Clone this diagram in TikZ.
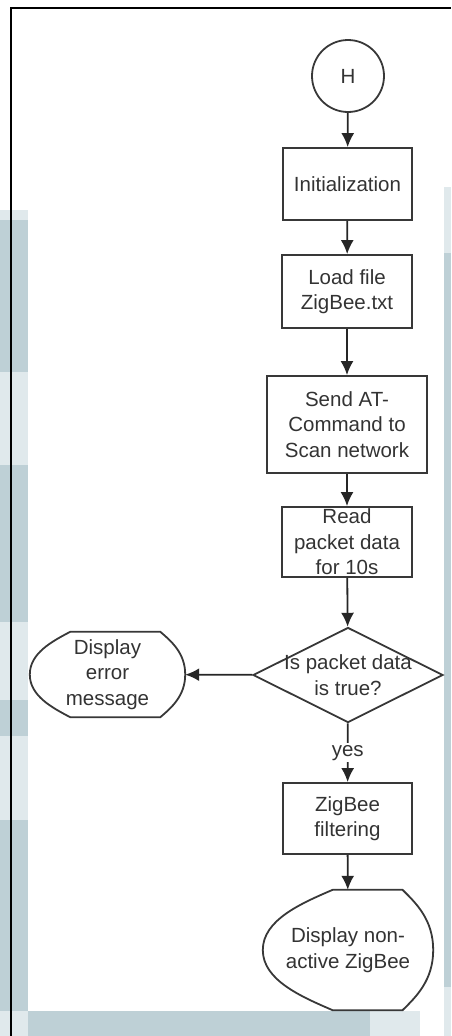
\documentclass[tikz,border=0pt]{standalone}
\usepackage{fontspec}
\setmainfont{Liberation Sans}
\usetikzlibrary{shapes.geometric,arrows.meta,calc}

\definecolor{scanblue}{RGB}{190,208,214}
\definecolor{scanlight}{RGB}{224,233,236}

% display symbol drawn round a node: #1 node, #2/#3 ends of the flat edges
\newcommand{\dispshape}[3]{%
    \draw[outline] ($(#1.north west)!#2!(#1.north east)$) coordinate (#1-tl)
        -- ($(#1.north west)!#3!(#1.north east)$) coordinate (#1-tr)
        .. controls ($(#1-tr)!0.45!($(#1.north east)!0.5!(#1.east)$)$) and ($(#1.east)!0.5!(#1.north east)$) .. (#1.east)
        .. controls ($(#1.east)!0.5!(#1.south east)$) and ($($(#1.south west)!#3!(#1.south east)$)!0.45!($(#1.south east)!0.5!(#1.east)$)$) .. ($(#1.south west)!#3!(#1.south east)$)
        -- ($(#1.south west)!#2!(#1.south east)$) coordinate (#1-bl)
        .. controls ($(#1-bl)!0.45!($(#1.south west)!0.5!(#1.west)$)$) and ($(#1.west)!0.5!(#1.south west)$) .. (#1.west)
        .. controls ($(#1.west)!0.5!(#1.north west)$) and ($(#1-tl)!0.45!($(#1.north west)!0.5!(#1.west)$)$) .. cycle;
}

\begin{document}
\begin{tikzpicture}[x=1pt,y=-1pt,line join=miter]
    \tikzstyle{outline}=[draw=black!78,line width=1.8pt]
    \tikzstyle{txt}=[text=black!80,font=\fontsize{20.5}{25.5}\selectfont,align=center,inner sep=0pt]
    \tikzstyle{process}=[txt,rectangle,outline]
    \tikzstyle{decision}=[diamond,outline,inner sep=0pt,minimum width=190pt,minimum height=95pt]
    \tikzstyle{display}=[txt]
    \tikzstyle{connector}=[circle,txt,outline,minimum size=72pt]
    \tikzstyle{flow}=[draw=black!85,line width=1.8pt,-{Latex[length=14pt,width=13pt]}]

    \useasboundingbox (0,0) rectangle (451,1036);

    % scanned page background
    \fill[scanlight] (0,210) rectangle (28,1036);
    \foreach \ya/\yb in {220/372, 465/622, 700/736, 820/1012}
        \fill[scanblue] (0,\ya) rectangle (28,\yb);
    \fill[scanlight] (444,187) rectangle (451,1036);
    \fill[scanblue] (444,253) rectangle (451,987);
    \fill[scanlight] (0,1011) rectangle (420,1036);
    \fill[scanblue] (28,1011) rectangle (370,1036);
    \draw[black,line width=2.5pt] (11,1036) -- (11,8) -- (451,8);

    \node[connector] (start) at (348,76) {H};
    \node[process,minimum width=129pt,minimum height=72pt] (init) at (347.5,184) {Initialization};
    \node[process,minimum width=130pt,minimum height=73pt] (load) at (347,291.5) {Load file\\ZigBee.txt};
    \node[process,minimum width=160pt,minimum height=97pt] (scan) at (347,424.5) {Send AT-\\Command to\\Scan network};
    \node[process,minimum width=130pt,minimum height=70pt] (read) at (347,542) {Read\\packet data\\for 10s};
    \node[decision,label={[txt]center:Is packet data\\is true?}] (check) at (348,675) {};
    \node[display,minimum width=155pt,minimum height=85pt] (error) at (107.5,674.5) {Display\\error\\message};
    \node[process,minimum width=129pt,minimum height=71pt] (filter) at (347.5,818.5) {ZigBee\\filtering};
    \node[display,minimum width=170pt,minimum height=120pt] (result) at (348,950) {Display non-\\active ZigBee};

    \dispshape{error}{0.26}{0.84}
    \dispshape{result}{0.41}{0.82}

    \foreach \from/\to in {start/init, init/load, load/scan, scan/read, read/check}
        \draw[flow] (\from) -- (\to);
    \draw[flow] (check) -- (error);
    \draw[flow] (check) -- node[txt,fill=white,inner sep=2pt] {yes} (filter);
    \draw[flow] (filter) -- (result);
\end{tikzpicture}
\end{document}
